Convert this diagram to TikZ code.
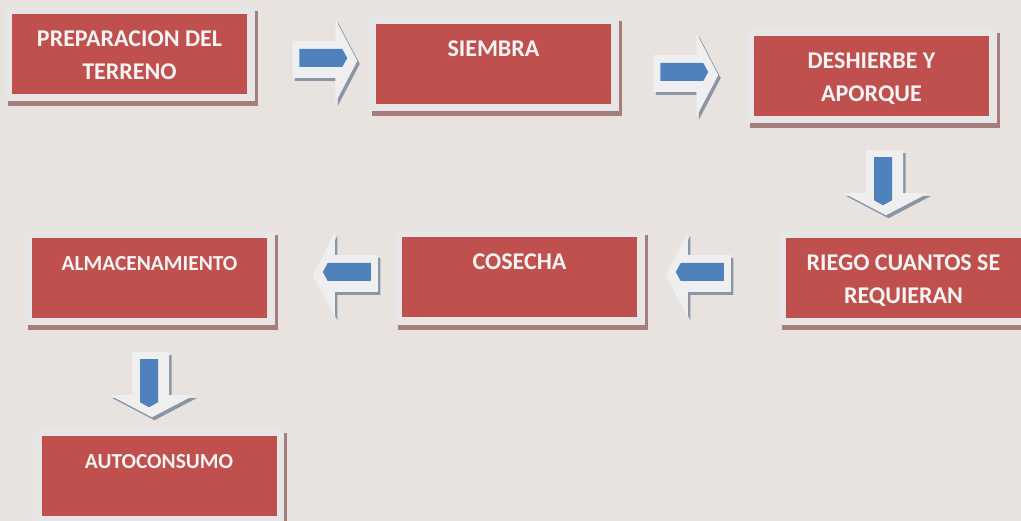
\documentclass[tikz,border=0pt]{standalone}
\usepackage{fontspec}
\setmainfont{Carlito}
\usetikzlibrary{calc,shadows}
\definecolor{bg}{HTML}{E9E3E0}
\definecolor{framegrey}{HTML}{E6E6E6}
\definecolor{boxred}{HTML}{C0504D}
\definecolor{boxshadow}{HTML}{A67C7C}
\definecolor{arrgrey}{HTML}{EFEFEF}
\definecolor{arrshade}{HTML}{8A95A5}
\definecolor{arrblue}{HTML}{4F81BD}
\definecolor{boxtext}{HTML}{F4F4F4}
\newcommand\topstrut{\rule[-9.9pt]{0pt}{37pt}}
\newcommand\botstrut{\rule[-9.9pt]{0pt}{33pt}}
\newcommand\twoline[2]{\topstrut #1\\\botstrut #2}
\tikzset{
  stepbox/.style={rectangle, fill=boxred, draw=framegrey, line width=7.5pt,
    minimum width=242.5pt, minimum height=87.5pt, inner sep=0pt, outer sep=0pt,
    text=boxtext, font=\bfseries\fontsize{24}{33}\selectfont, align=center,
    general shadow={shadow xshift=3pt, shadow yshift=-5pt, fill=boxshadow,
      draw=boxshadow, line width=7.5pt}},
  smalltext/.style={font=\bfseries\fontsize{21.4}{33}\selectfont},
  pics/blockarrow/.style={code={
    \begin{scope}[shift={(2.5,3)}]\begin{scope}[#1]
      \fill[arrshade] (-65,-20) -- (-22,-20) -- (-22,-42) -- (0,0) -- (-22,42) -- (-22,17) -- (-65,17) -- cycle;
    \end{scope}\end{scope}
    \begin{scope}[#1]
      \fill[arrgrey] (-65,-20) -- (-22,-20) -- (-22,-42) -- (0,0) -- (-22,42) -- (-22,17) -- (-65,17) -- cycle;
      \fill[arrblue] (-58,-12) -- (-15,-12) -- (-10,-3) -- (-15,6) -- (-58,6) -- cycle;
    \end{scope}
  }}
}
\begin{document}
\begin{tikzpicture}[x=1pt,y=-1pt]
\useasboundingbox (0,0) rectangle (1021,521);
\fill[bg] (0,0) rectangle (1021,521);

\node[stepbox] (prep)      at (129.5,54)  {\twoline{PREPARACION DEL}{TERRENO}};
\node[stepbox] (siembra)   at (493.5,64)  {\twoline{SIEMBRA}{}};
\node[stepbox] (deshierbe) at (871.5,76)  {\twoline{DESHIERBE Y}{APORQUE}};
\node[stepbox] (riego)     at (903.5,278) {\twoline{RIEGO CUANTOS SE}{REQUIERAN}};
\node[stepbox] (cosecha)   at (519.5,277.5) {\twoline{COSECHA}{}};
\node[stepbox, smalltext] (almac) at (149.5,278) {\twoline{ALMACENAMIENTO}{}};
\node[stepbox, smalltext] (autoc) at (159,476)   {\twoline{AUTOCONSUMO}{}};

\pic at ($(siembra.west)+(-15,-3)$) {blockarrow={}};
\pic at ($(deshierbe.west)+(-32,-1)$) {blockarrow={}};
\pic at ($(riego.north)+(-17.5,-19)$) {blockarrow={rotate=-90,yscale=-1}};
\pic at ($(cosecha.east)+(25,-2.5)$) {blockarrow={xscale=-1}};
\pic at ($(almac.east)+(42,-3)$) {blockarrow={xscale=-1}};
\pic at ($(autoc.north)+(-7,-15)$) {blockarrow={rotate=-90,yscale=-1}};
\end{tikzpicture}
\end{document}
